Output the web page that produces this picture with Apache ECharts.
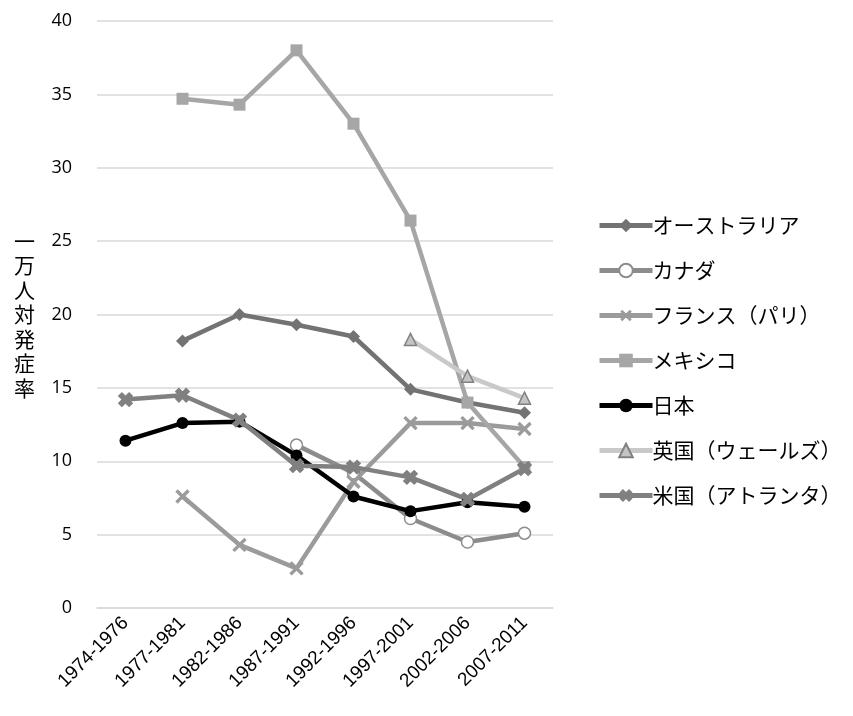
<!DOCTYPE html>
<html><head><meta charset="utf-8">
<script src="https://cdn.jsdelivr.net/npm/echarts@6/dist/echarts.min.js"></script>
<style>html,body{margin:0;padding:0;background:#fff}#c{width:853px;height:716px}</style>
</head><body><div id="c"></div>
<script>
const categories = ['1974-1976','1977-1981','1982-1986','1987-1991','1992-1996','1997-2001','2002-2006','2007-2011'];
const yTicks = [0,5,10,15,20,25,30,35,40];
const australia = [null,18.2,20.0,19.3,18.5,14.9,14.0,13.3];
const canada    = [null,null,null,11.1,9.2,6.1,4.5,5.1];
const france    = [null,7.6,4.3,2.7,8.6,12.6,12.6,12.2];
const mexico    = [null,34.7,34.3,38.0,33.0,26.4,14.0,9.6];
const japan     = [11.4,12.6,12.7,10.4,7.6,6.6,7.2,6.9];
const uk        = [null,null,null,null,null,18.3,15.8,14.3];
const usa       = [14.2,14.5,12.8,9.7,9.6,8.9,7.4,9.5];
const names = ['オーストラリア','カナダ','フランス（パリ）','メキシコ','日本','英国（ウェールズ）','米国（アトランタ）'];
const yTitle = '一万人対発症率';

const plus = 'path://M4,0 H6 V4 H10 V6 H6 V10 H4 V6 H0 V4 H4 Z';
const plusThick = 'path://M3.2,0 H6.8 V3.2 H10 V6.8 H6.8 V10 H3.2 V6.8 H0 V3.2 H3.2 Z';
const font = '"Noto Sans CJK JP","Noto Sans",sans-serif';

function ser(name, data, color, symbol, size, extra) {
  return Object.assign({
    name, type: 'line', data, symbol, symbolSize: size,
    connectNulls: false,
    lineStyle: { color, width: 4.5 },
    itemStyle: { color, borderColor: color, borderWidth: 0 },
    emphasis: { disabled: true }
  }, extra || {});
}

const series = [
  ser(names[0], australia, '#737373', 'diamond', 13),
  ser(names[1], canada, '#8c8c8c', 'circle', 12, { itemStyle: { color: '#fff', borderColor: '#8c8c8c', borderWidth: 1.5 } }),
  ser(names[2], france, '#9b9b9b', plus, 17, { symbolRotate: 45, itemStyle: { color: '#9b9b9b' } }),
  ser(names[3], mexico, '#a6a6a6', 'rect', 12),
  ser(names[4], japan, '#000000', 'circle', 12),
  ser(names[5], uk, '#c9c9c9', 'triangle', 12, { itemStyle: { color: '#c4c4c4', borderColor: '#808080', borderWidth: 1.5 } }),
  ser(names[6], usa, '#808080', plusThick, 16, { symbolRotate: 45, itemStyle: { color: '#808080' } })
];

const chart = echarts.init(document.getElementById('c'), null, { renderer: 'canvas' });
chart.setOption({
  animation: false,
  backgroundColor: '#fff',
  grid: { left: 97, right: 300, top: 21, bottom: 108 },
  xAxis: {
    type: 'category', data: categories, boundaryGap: true,
    axisLine: { show: true, lineStyle: { color: '#d9d9d9', width: 1.5 } },
    axisTick: { show: false },
    axisLabel: { rotate: 45, color: '#000', fontSize: 19, fontFamily: '"Liberation Sans",sans-serif', margin: 12 }
  },
  yAxis: {
    type: 'value', min: 0, max: 40, interval: 5,
    axisLine: { show: false }, axisTick: { show: false },
    splitLine: { lineStyle: { color: '#d9d9d9', width: 1.5 } },
    axisLabel: { color: '#000', fontSize: 18, fontFamily: '"Open Sans",sans-serif', margin: 25,
      formatter: v => yTicks.includes(v) ? String(v) : '' },
    name: yTitle.split('').join('\n'),
    nameLocation: 'middle', nameRotate: 0, nameGap: 62,
    nameTextStyle: { fontSize: 21, lineHeight: 24.5, color: '#000', fontFamily: font }
  },
  legend: {
    orient: 'vertical', left: 592, top: 210, itemGap: 24,
    itemWidth: 53, itemHeight: 17,
    lineStyle: { width: 5 },
    textStyle: { fontSize: 21, color: '#000', fontFamily: font, padding: [0,0,0,-5] },
    data: names,
    selectedMode: false
  },
  series
});
</script></body></html>
